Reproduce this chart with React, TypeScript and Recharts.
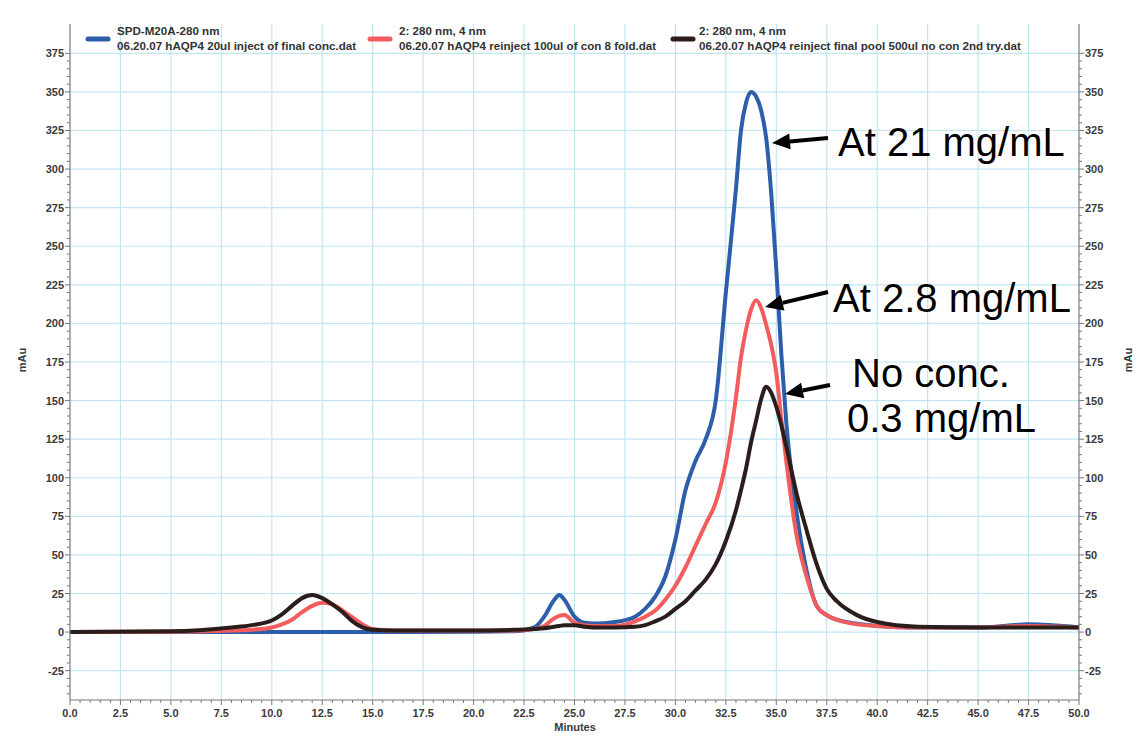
import { LineChart, Line, XAxis, YAxis, ReferenceLine } from "recharts";

// retention time (minutes)
const minutes = [
  0, 5, 8, 9, 10, 10.5, 11, 11.5, 12, 12.5, 13, 13.5, 14, 14.5, 15, 16, 20, 22, 23, 23.5,
  24, 24.25, 24.5, 25, 25.5, 26, 27, 28, 28.5, 29, 29.5, 30, 30.5, 31, 31.5, 32, 32.5, 33, 33.25, 33.5,
  33.75, 34, 34.25, 34.5, 34.75, 35, 35.25, 35.5, 36, 36.5, 37, 37.5, 38, 39, 40, 42, 45, 47.5, 50,
];

// absorbance (mAu) per run
const finalConc = [
  0, 0, 0, 0, 0, 0, 0, 0, 0, 0, 0, 0, 0, 0, 0, 0, 0.3, 0.5, 3, 10,
  21, 24, 21, 10, 6, 5.5, 6.5, 10, 15, 23, 36, 60, 92, 111, 125, 150, 220, 287, 325, 343,
  350, 347, 338, 320, 284, 235, 180, 135, 78, 40, 17, 11, 8, 5.5, 4, 3, 3, 5, 3,
];
const eightFold = [
  0, 0.3, 1, 1.5, 3, 5, 8, 13, 17, 19, 18, 14, 9.5, 5, 2, 1, 1, 1, 2, 4,
  9, 10.5, 11, 6, 4.5, 4, 4, 7, 10, 14, 21, 30, 42, 56, 70, 84, 110, 152, 178, 196,
  209, 215, 210, 199, 186, 168, 138, 110, 63, 36, 17, 11, 8, 5, 4, 3, 3, 4, 3,
];
const noConc = [
  0, 0.5, 3, 4.5, 7.5, 11.5, 17, 22, 24, 22, 18, 13, 7, 3, 1.5, 1, 1, 1.5, 2, 2.5,
  3.5, 4, 4.5, 4.5, 3.5, 3, 3, 3.5, 4.5, 7, 10, 15, 20, 27, 34, 44, 59, 79, 92, 106,
  123, 137, 151, 159, 155, 146, 134, 120, 90, 66, 44, 28, 20, 11, 6.5, 3.5, 3, 3, 3,
];

const xMajor = [0, 2.5, 5, 7.5, 10, 12.5, 15, 17.5, 20, 22.5, 25, 27.5, 30, 32.5, 35, 37.5, 40, 42.5, 45, 47.5, 50];
const yMajor = [-25, 0, 25, 50, 75, 100, 125, 150, 175, 200, 225, 250, 275, 300, 325, 350, 375];
const xTicks = Array.from({ length: 101 }, (_, i) => i * 0.5);
const yTicks = Array.from({ length: 84 }, (_, i) => -40 + i * 5);

const legendTitles = ["SPD-M20A-280 nm", "2: 280 nm, 4 nm", "2: 280 nm, 4 nm"];
const legendFiles = [
  "06.20.07 hAQP4 20ul inject of final conc.dat",
  "06.20.07 hAQP4 reinject 100ul of con 8 fold.dat",
  "06.20.07 hAQP4 reinject final pool 500ul no con 2nd try.dat",
];
const seriesKeys = ["finalConc", "eightFold", "noConc"];
const seriesColors = ["#2d5eaa", "#f25c5c", "#2b1d1b"];

const data = minutes.map((t, i) => ({
  t,
  finalConc: finalConc[i],
  eightFold: eightFold[i],
  noConc: noConc[i],
}));

const FONT = "'Liberation Sans', Arial, sans-serif";
const AXIS = "#777";
const GRID = "#c2e5f4";
const TICKTXT = "#3a3a3a";

const isMajor = (v: number, step: number) => Math.abs(v / step - Math.round(v / step)) < 1e-6;

const XTick = (props: any) => {
  const { x, y, payload } = props;
  const v = payload.value;
  const major = isMajor(v, 2.5);
  return (
    <g>
      <line x1={x} y1={y} x2={x} y2={y + (major ? 5 : 3)} stroke={AXIS} />
      {major && (
        <text x={x} y={y + 17} textAnchor="middle" fontSize={11} fontWeight="bold" fill={TICKTXT} fontFamily={FONT}>
          {v.toFixed(1)}
        </text>
      )}
    </g>
  );
};

const YTick = (props: any) => {
  const { x, y, payload, side } = props;
  const v = payload.value;
  const major = isMajor(v, 25);
  const dir = side === "right" ? 1 : -1;
  return (
    <g>
      <line x1={x} y1={y} x2={x + dir * (major ? 5 : 3)} y2={y} stroke={AXIS} />
      {major && (
        <text
          x={x + dir * 6}
          y={y + 4}
          textAnchor={side === "right" ? "start" : "end"}
          fontSize={11}
          fontWeight="bold"
          fill={TICKTXT}
          fontFamily={FONT}
        >
          {v}
        </text>
      )}
    </g>
  );
};

const legendX = [88, 370, 673];

function Arrow({ x1, y1, x2, y2 }: { x1: number; y1: number; x2: number; y2: number }) {
  const a = Math.atan2(y2 - y1, x2 - x1);
  const len = 18;
  const w = 8;
  const bx = x2 - len * Math.cos(a);
  const by = y2 - len * Math.sin(a);
  const px = -Math.sin(a) * w;
  const py = Math.cos(a) * w;
  return (
    <g>
      <line x1={x1} y1={y1} x2={bx} y2={by} stroke="#000" strokeWidth={4} />
      <polygon points={`${x2},${y2} ${bx + px},${by + py} ${bx - px},${by - py}`} fill="#000" />
    </g>
  );
}

export default function App() {
  return (
    <div style={{ position: "absolute", left: 0, top: 0, width: 1138, height: 740, background: "#fff" }}>
      <LineChart width={1138} height={740} data={data} margin={{ top: 24, right: 10, bottom: 10, left: 10 }}>
        {xMajor.map((v) => (
          <ReferenceLine key={`gx${v}`} x={v} yAxisId="l" stroke={GRID} strokeWidth={1.2} />
        ))}
        {yMajor.map((v) => (
          <ReferenceLine key={`gy${v}`} y={v} yAxisId="l" stroke={GRID} strokeWidth={1.2} />
        ))}
        <XAxis
          dataKey="t"
          type="number"
          domain={[0, 50]}
          ticks={xTicks}
          interval={0}
          height={30}
          tickSize={0}
          tickMargin={0}
          tickLine={false}
          axisLine={{ stroke: AXIS }}
          tick={<XTick />}
          allowDataOverflow
        />
        <XAxis xAxisId="top" orientation="top" type="number" domain={[0, 50]} height={0} tick={false} tickLine={false} axisLine={{ stroke: AXIS }} />
        <YAxis
          yAxisId="l"
          type="number"
          domain={[-44, 394]}
          ticks={yTicks}
          interval={0}
          width={60}
          tickSize={0}
          tickMargin={0}
          tickLine={false}
          axisLine={{ stroke: AXIS }}
          tick={<YTick side="left" />}
          allowDataOverflow
        />
        <YAxis
          yAxisId="r"
          orientation="right"
          type="number"
          domain={[-44, 394]}
          ticks={yTicks}
          interval={0}
          width={49}
          tickSize={0}
          tickMargin={0}
          tickLine={false}
          axisLine={{ stroke: AXIS }}
          tick={<YTick side="right" />}
          allowDataOverflow
        />
        {seriesKeys.map((k, i) => (
          <Line
            key={k}
            yAxisId="l"
            dataKey={k}
            type="monotone"
            stroke={seriesColors[i]}
            strokeWidth={4}
            dot={false}
            activeDot={false}
            isAnimationActive={false}
          />
        ))}
      </LineChart>
      <svg width={1138} height={740} style={{ position: "absolute", left: 0, top: 0, pointerEvents: "none" }} fontFamily={FONT}>
        {legendTitles.map((title, i) => (
          <g key={i}>
            <line x1={legendX[i]} y1={39} x2={legendX[i] + 20} y2={39} stroke={seriesColors[i]} strokeWidth={5} strokeLinecap="round" />
            <text x={legendX[i] + (i === 2 ? 26 : 29)} y={35} fontSize={11.6} fontWeight="bold" fill="#333">
              {title}
            </text>
            <text x={legendX[i] + (i === 2 ? 26 : 29)} y={50} fontSize={11.6} fontWeight="bold" fill="#333">
              {legendFiles[i]}
            </text>
          </g>
        ))}
        <text x={26} y={360} transform="rotate(-90 26 360)" textAnchor="middle" fontSize={11} fontWeight="bold" fill={TICKTXT}>
          mAu
        </text>
        <text x={1132} y={360} transform="rotate(-90 1132 360)" textAnchor="middle" fontSize={11} fontWeight="bold" fill={TICKTXT}>
          mAu
        </text>
        <text x={575} y={731} textAnchor="middle" fontSize={11} fontWeight="bold" fill={TICKTXT}>
          Minutes
        </text>

        <Arrow x1={828} y1={138} x2={772} y2={143} />
        <Arrow x1={828} y1={292} x2={765} y2={307} />
        <Arrow x1={830} y1={385} x2={785} y2={394} />
        <text x={838} y={156} fontSize={40} fill="#000">At 21 mg/mL</text>
        <text x={833} y={312} fontSize={40} fill="#000">At 2.8 mg/mL</text>
        <text x={852} y={387} fontSize={40} fill="#000">No conc.</text>
        <text x={847} y={432} fontSize={40} fill="#000">0.3 mg/mL</text>
      </svg>
    </div>
  );
}
